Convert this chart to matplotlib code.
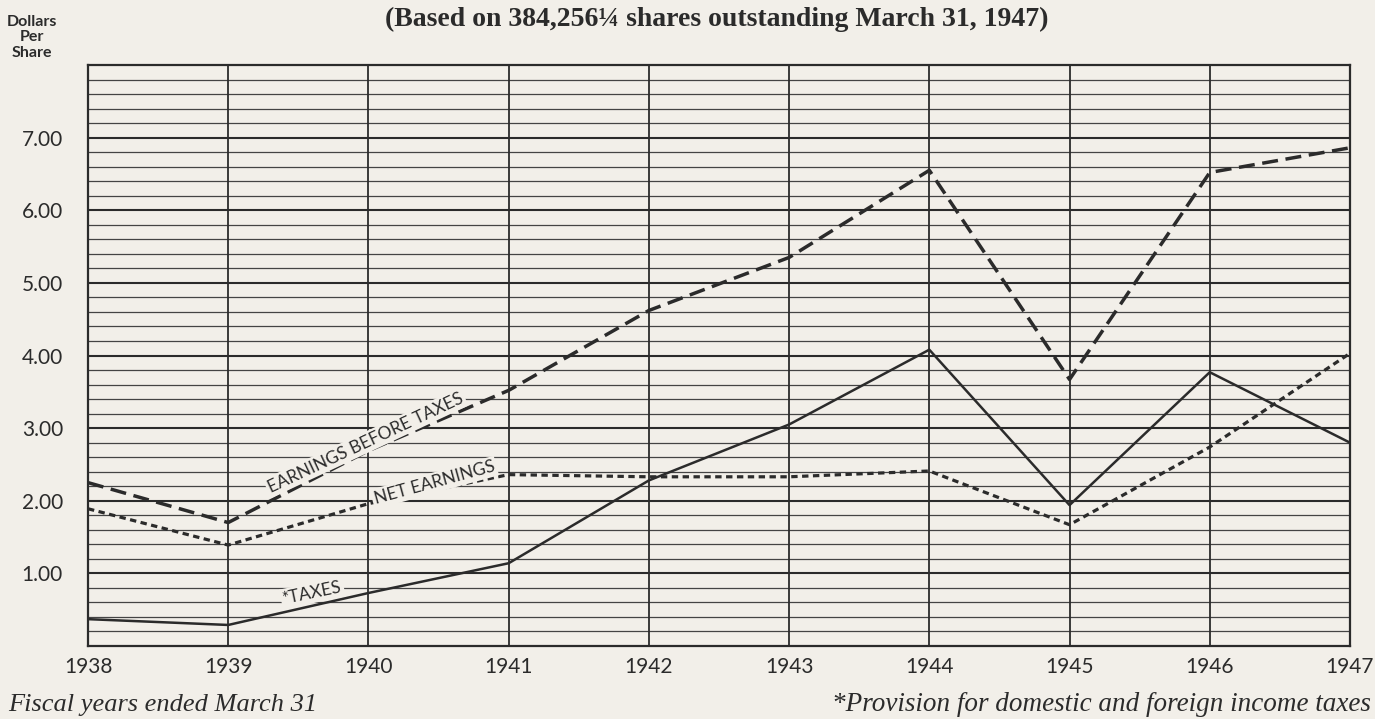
import numpy as np
import matplotlib.pyplot as plt

years = [1938, 1939, 1940, 1941, 1942, 1943, 1944, 1945, 1946, 1947]
before_taxes = [2.25, 1.70, 2.69, 3.52, 4.62, 5.35, 6.55, 3.67, 6.52, 6.86]
net_earnings = [1.89, 1.39, 1.96, 2.36, 2.33, 2.33, 2.41, 1.67, 2.74, 4.03]
taxes = [0.37, 0.29, 0.73, 1.14, 2.28, 3.05, 4.08, 1.94, 3.77, 2.80]
ytick_vals = [1, 2, 3, 4, 5, 6, 7]
ytick_labels = ['1.00', '2.00', '3.00', '4.00', '5.00', '6.00', '7.00']

bg = '#f2efe9'
ink = '#2b2b2b'
sans = ['Lato', 'DejaVu Sans']

fig = plt.figure(figsize=(13.75, 7.19), dpi=100, facecolor=bg)
ax = fig.add_axes([0.064, 0.1015, 0.9178, 0.8081], facecolor=bg)
ax.set_xlim(1938, 1947)
ax.set_ylim(0, 8)

# grid lines drawn by hand so minor/major weights differ
for v in np.arange(0.2, 8.0, 0.2):
    major = abs(v - round(v)) < 1e-6
    ax.axhline(v, color=ink if major else '#444444', lw=1.5 if major else 0.9, zorder=1)
for yr in years[1:-1]:
    ax.axvline(yr, color=ink, lw=1.3, zorder=1)
for s in ax.spines.values():
    s.set_color(ink)
    s.set_linewidth(1.6)

ax.plot(years, before_taxes, color=ink, lw=2.5, dashes=(4.6, 2.2), zorder=3)
ax.plot(years, net_earnings, color=ink, lw=2.3, dashes=(2.0, 1.4), zorder=3)
ax.plot(years, taxes, color=ink, lw=1.8, zorder=3)

ax.set_xticks(years)
ax.set_xticklabels([str(y) for y in years], family=sans, fontsize=15, color=ink)
ax.set_yticks(ytick_vals)
ax.set_yticklabels(ytick_labels, family=sans, fontsize=15, color=ink)
ax.tick_params(length=0)
ax.tick_params(axis='x', pad=8)
ax.tick_params(axis='y', pad=18)


def line_label(text, x, y, seg, fs, tweak=0):
    # rotation follows the screen slope of the given segment
    p0 = ax.transData.transform((years[seg[0]], seg[1][seg[0]]))
    p1 = ax.transData.transform((years[seg[0] + 1], seg[1][seg[0] + 1]))
    ang = np.degrees(np.arctan2(p1[1] - p0[1], p1[0] - p0[0])) + tweak
    ax.text(x, y, text, rotation=ang, rotation_mode='anchor', ha='center', va='center',
            family=sans, fontsize=fs, color=ink, zorder=4,
            bbox=dict(boxstyle='square,pad=0.12', fc=bg, ec='none'))


line_label('EARNINGS BEFORE TAXES', 1939.98, 2.80, (1, before_taxes), 12.5, -2)
line_label('NET EARNINGS', 1940.47, 2.25, (1, net_earnings), 12.5, -1)
line_label('*TAXES', 1939.6, 0.73, (1, taxes), 12.5, -1)

fig.text(0.023, 0.948, 'Dollars\nPer\nShare', ha='center', va='center', family=sans,
         fontsize=11.5, fontweight='bold', color=ink, linespacing=1.15)
fig.text(0.521, 0.973, '(Based on 384,256\u00bc shares outstanding March 31, 1947)',
         ha='center', va='center', family='Liberation Serif', fontsize=20,
         fontweight='bold', color=ink)
fig.text(0.006, 0.02, 'Fiscal years ended March 31', ha='left', va='center',
         family='Liberation Serif', style='italic', fontsize=19, color=ink)
fig.text(0.997, 0.02, '*Provision for domestic and foreign income taxes', ha='right',
         va='center', family='Liberation Serif', style='italic', fontsize=19.5, color=ink)

fig.savefig('out.png', dpi=100, facecolor=bg)
